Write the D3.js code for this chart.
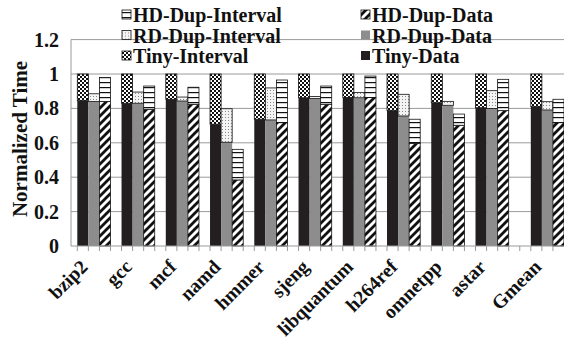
<!DOCTYPE html>
<html>
<head>
<meta charset="utf-8">
<script src="https://cdn.jsdelivr.net/npm/d3@7"></script>
<style>
  body { margin: 0; background: #fff; }
</style>
</head>
<body>
<svg id="chart" width="564" height="341"></svg>
<script>
const categories = ['bzip2', 'gcc', 'mcf', 'namd', 'hmmer', 'sjeng', 'libquantum', 'h264ref', 'omnetpp', 'astar', 'Gmean'];

// base part of each bar, then the interval part stacked on top of it
const tinyData = [0.845, 0.83, 0.853, 0.708, 0.737, 0.862, 0.864, 0.787, 0.833, 0.804, 0.81];
const tinyInterval = [0.155, 0.17, 0.147, 0.292, 0.263, 0.138, 0.136, 0.213, 0.167, 0.196, 0.19];
const rdDupData = [0.84, 0.83, 0.843, 0.603, 0.733, 0.857, 0.862, 0.756, 0.818, 0.80, 0.791];
const rdDupInterval = [0.045, 0.065, 0.023, 0.195, 0.186, 0.012, 0.031, 0.126, 0.023, 0.103, 0.048];
const hdDupData = [0.84, 0.795, 0.824, 0.384, 0.717, 0.824, 0.864, 0.597, 0.702, 0.787, 0.717];
const hdDupInterval = [0.14, 0.135, 0.099, 0.178, 0.248, 0.106, 0.124, 0.14, 0.065, 0.182, 0.136];

const yTicks = [0, 0.2, 0.4, 0.6, 0.8, 1, 1.2];

const series = [
  { data: tinyData, interval: tinyInterval, dataFill: '#231f20', intervalFill: 'url(#checker)' },
  { data: rdDupData, interval: rdDupInterval, dataFill: '#8d8d8d', intervalFill: 'url(#dots)' },
  { data: hdDupData, interval: hdDupInterval, dataFill: 'url(#diag)', intervalFill: 'url(#hstripe)' }
];

const legendItems = [
  { label: 'HD-Dup-Interval', fill: 'url(#hstripe)', col: 0, row: 0 },
  { label: 'HD-Dup-Data', fill: 'url(#diag)', col: 1, row: 0 },
  { label: 'RD-Dup-Interval', fill: 'url(#dots)', col: 0, row: 1 },
  { label: 'RD-Dup-Data', fill: '#8d8d8d', col: 1, row: 1 },
  { label: 'Tiny-Interval', fill: 'url(#checker)', col: 0, row: 2 },
  { label: 'Tiny-Data', fill: '#231f20', col: 1, row: 2 }
];

const FONT = 'Liberation Serif';

const svg = d3.select('#chart');
const left = 71, right = 564;
const SLOTS = 44;

// first slot of each group: 3 bars + 1 empty slot, one extra empty slot before Gmean
const groupStart = i => 4 * i + (i === categories.length - 1 ? 1 : 0);

const x = d3.scaleBand().domain(d3.range(SLOTS)).range([77.3, 564]).padding(0);
const y = d3.scaleLinear().domain([0, 1.2]).range([246, 39.6]);

// patterns
const defs = svg.append('defs');
const checker = defs.append('pattern').attr('id', 'checker')
  .attr('patternUnits', 'userSpaceOnUse').attr('width', 4).attr('height', 4);
checker.append('rect').attr('width', 4).attr('height', 4).attr('fill', '#fff');
checker.append('rect').attr('width', 2).attr('height', 2).attr('fill', '#111');
checker.append('rect').attr('x', 2).attr('y', 2).attr('width', 2).attr('height', 2).attr('fill', '#111');

const dots = defs.append('pattern').attr('id', 'dots')
  .attr('patternUnits', 'userSpaceOnUse').attr('width', 3).attr('height', 3);
dots.append('rect').attr('width', 3).attr('height', 3).attr('fill', '#f4f4f4');
dots.append('rect').attr('width', 1).attr('height', 1).attr('fill', '#8a8a8a');

const hstripe = defs.append('pattern').attr('id', 'hstripe')
  .attr('patternUnits', 'userSpaceOnUse').attr('width', 6).attr('height', 5);
hstripe.append('rect').attr('width', 6).attr('height', 5).attr('fill', '#fff');
hstripe.append('rect').attr('y', 2).attr('width', 6).attr('height', 1.2).attr('fill', '#111');

const diag = defs.append('pattern').attr('id', 'diag')
  .attr('patternUnits', 'userSpaceOnUse').attr('width', 8).attr('height', 8);
diag.append('rect').attr('width', 8).attr('height', 8).attr('fill', '#fff');
diag.append('path').attr('d', 'M-2,2L2,-2M0,8L8,0M6,10L10,6')
  .attr('stroke', '#111').attr('stroke-width', 2.8);

// gridlines
svg.append('g').selectAll('line').data(yTicks.filter(d => d > 0)).join('line')
  .attr('x1', left).attr('x2', right)
  .attr('y1', d => y(d)).attr('y2', d => y(d))
  .attr('stroke', '#9a9a9a').attr('stroke-width', 1);

svg.append('line')
  .attr('x1', left).attr('x2', left).attr('y1', y(1.2)).attr('y2', y(0))
  .attr('stroke', '#9a9a9a');

// y labels
svg.append('g').selectAll('text').data(yTicks).join('text')
  .attr('x', 59).attr('y', d => y(d))
  .attr('dy', '0.35em')
  .attr('text-anchor', 'end')
  .attr('font-family', FONT).attr('font-weight', 'bold')
  .attr('font-size', 20)
  .attr('fill', '#111')
  .text(d => d3.format('~g')(d));

svg.append('text')
  .attr('transform', 'translate(27,139) rotate(-90)')
  .attr('text-anchor', 'middle')
  .attr('font-family', FONT).attr('font-weight', 'bold')
  .attr('font-size', 21)
  .attr('fill', '#111')
  .text('Normalized Time');

// bars
const bars = svg.append('g');
categories.forEach((cat, i) => {
  series.forEach((s, j) => {
    const slot = groupStart(i) + j;
    const bx = x(slot), bw = x.bandwidth();
    const base = s.data[i], top = s.data[i] + s.interval[i];
    bars.append('rect')
      .attr('x', bx).attr('width', bw)
      .attr('y', y(base)).attr('height', y(0) - y(base))
      .attr('fill', s.dataFill)
      .attr('stroke', j === 2 ? '#111' : 'none').attr('stroke-width', 0.8);
    bars.append('rect')
      .attr('x', bx).attr('width', bw)
      .attr('y', y(top)).attr('height', y(base) - y(top))
      .attr('fill', s.intervalFill)
      .attr('stroke', '#111').attr('stroke-width', 0.8);
  });
});

// x axis line and ticks
svg.append('line')
  .attr('x1', left).attr('x2', right).attr('y1', y(0)).attr('y2', y(0))
  .attr('stroke', '#9a9a9a');
svg.append('g').selectAll('line').data(d3.range(SLOTS)).join('line')
  .attr('x1', d => x(d)).attr('x2', d => x(d))
  .attr('y1', y(0)).attr('y2', y(0) + 5)
  .attr('stroke', '#9a9a9a');

// category labels
svg.append('g').selectAll('text').data(categories).join('text')
  .attr('transform', (d, i) => {
    const cx = x(groupStart(i)) + 1.5 * x.bandwidth();
    return `translate(${cx - 5},268) rotate(-45)`;
  })
  .attr('text-anchor', 'end')
  .attr('font-family', FONT).attr('font-weight', 'bold')
  .attr('font-size', 19.5)
  .attr('fill', '#111')
  .text(d => d);

// legend
const legend = svg.append('g');
const colX = [122, 361];
const rowY = [15, 35.5, 56];
legendItems.forEach(item => {
  const g = legend.append('g')
    .attr('transform', `translate(${colX[item.col]},${rowY[item.row]})`);
  g.append('rect')
    .attr('x', 0).attr('y', -5).attr('width', 9).attr('height', 9)
    .attr('fill', item.fill)
    .attr('stroke', item.fill.startsWith('url') ? '#111' : 'none')
    .attr('stroke-width', 0.8);
  g.append('text')
    .attr('x', 11).attr('dy', '0.35em')
    .attr('font-family', FONT).attr('font-weight', 'bold')
    .attr('font-size', 20)
    .attr('fill', '#111')
    .text(item.label);
});
</script>
</body>
</html>
